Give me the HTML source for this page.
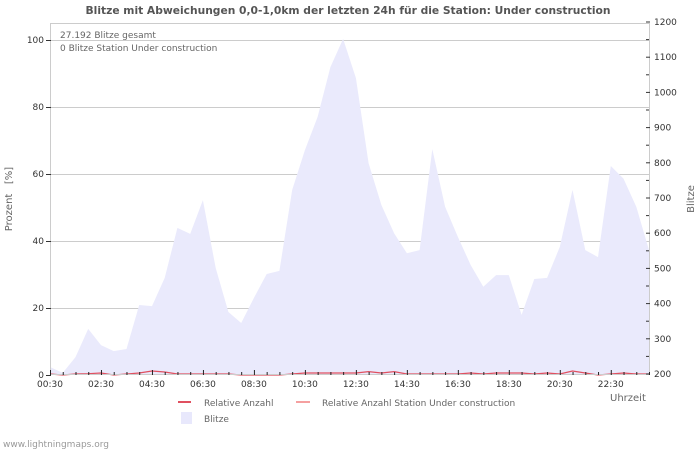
<!DOCTYPE html>
<html><head><meta charset="utf-8"><style>
html,body{margin:0;padding:0;background:#fff;}
svg{display:block;font-family:"DejaVu Sans","Liberation Sans",sans-serif;}
</style></head><body>
<svg id="chart" width="700" height="450" viewBox="0 0 700 450" xmlns="http://www.w3.org/2000/svg">
<text x="348" y="14" text-anchor="middle" font-size="10.7" font-weight="bold" fill="#555">Blitze mit Abweichungen 0,0-1,0km der letzten 24h für die Station: Under construction</text>
<g id="grid"></g>
<g id="area"></g>
<g id="lines"></g>
<rect x="50.5" y="23.5" width="599" height="351" fill="none" stroke="#ccc"/>
<g id="axes"></g>
<text x="60" y="38" font-size="9" fill="#666">27.192 Blitze gesamt</text>
<text x="60" y="51" font-size="9" fill="#666">0 Blitze Station Under construction</text>
<text transform="translate(12,199) rotate(-90)" text-anchor="middle" font-size="10" fill="#666" xml:space="preserve">Prozent   [%]</text>
<text transform="translate(694,199) rotate(-90)" text-anchor="middle" font-size="10" fill="#666">Blitze</text>
<text x="610" y="401" font-size="10" fill="#666">Uhrzeit</text>
<g>
<line x1="178" y1="402" x2="191" y2="402" stroke="#e05060" stroke-width="2"/>
<text x="204" y="406" font-size="9" fill="#666">Relative Anzahl</text>
<line x1="296" y1="402" x2="310" y2="402" stroke="#f5a0a0" stroke-width="2"/>
<text x="322" y="406" font-size="9" fill="#666">Relative Anzahl Station Under construction</text>
<rect x="181" y="412" width="11" height="12" fill="#e8e8fc"/>
<text x="204" y="422" font-size="9" fill="#666">Blitze</text>
</g>
<text x="3" y="447" font-size="9" fill="#999">www.lightningmaps.org</text>
</svg>
<script>
const blitze = [220,203,248,328,282,265,271,396,393,473,615,598,694,501,376,345,416,484,493,723,836,930,1072,1152,
1041,799,680,600,543,552,839,675,590,510,448,481,481,368,470,473,561,723,552,532,791,755,675,552];
const relAnzahl = [0.3,0,0.3,0.4,0.6,0,0.3,0.6,1.2,0.9,0.3,0.3,0.3,0.3,0.3,0,0,0,0,0.3,0.6,0.6,0.6,0.6,
0.6,1.0,0.6,1.0,0.3,0.3,0.3,0.3,0.3,0.6,0.3,0.6,0.6,0.6,0.3,0.6,0.3,1.2,0.6,0,0.3,0.6,0.3,0.3];
const xLabels = ["00:30","02:30","04:30","06:30","08:30","10:30","12:30","14:30","16:30","18:30","20:30","22:30"];
const leftTicks = [0,20,40,60,80,100];
const rightTicks = [200,300,400,500,600,700,800,900,1000,1100,1200];
const NS="http://www.w3.org/2000/svg";
const X0=50,STEP=12.745;
const xs=i=>X0+i*STEP;
const yL=v=>375-v*3.35;
const yR=v=>374-(v-200)*0.352;
function mk(tag,attrs,parent){const e=document.createElementNS(NS,tag);for(const k in attrs)e.setAttribute(k,attrs[k]);parent.appendChild(e);return e;}
const grid=document.getElementById('grid'),axes=document.getElementById('axes'),area=document.getElementById('area'),lines=document.getElementById('lines');
leftTicks.forEach(v=>{
  if(v>0){const g=mk('line',{x1:50,x2:650,y1:yL(v)+0.5,y2:yL(v)+0.5,stroke:'#ccc'},grid);
  
  }
  const t=mk('text',{x:44,y:yL(v)+3,'text-anchor':'end','font-size':'9',fill:'#333'},axes);t.textContent=v;
  
  
  mk('line',{x1:46,x2:51,y1:yL(v)+0.5,y2:yL(v)+0.5,stroke:'#333'},axes);
});
rightTicks.forEach(v=>{
  const t=mk('text',{x:654,y:yR(v)+3,'font-size':'9',fill:'#333'},axes);t.textContent=v;
  
  
  mk('line',{x1:646,x2:650,y1:yR(v),y2:yR(v),stroke:'#333'},axes);
  if(v<1200) mk('line',{x1:646,x2:649,y1:yR(v+50),y2:yR(v+50),stroke:'#333'},axes);
});
let d='M'+xs(0)+',375';
blitze.forEach((v,i)=>{d+=' L'+xs(i).toFixed(1)+','+yR(v).toFixed(1);});
d+=' L'+xs(blitze.length-1)+',375 Z';
const ap=mk('path',{d:d,fill:'#eaeafc'},area);


const pts=relAnzahl.map((v,i)=>xs(i).toFixed(1)+','+yL(v).toFixed(1)).join(' ');
const pl=mk('polyline',{points:pts,fill:'none',stroke:'#e05060','stroke-width':1.2},lines);


for(let i=0;i<48;i++){
  const major=i%4===0;
  mk('line',{x1:xs(i)+0.5,x2:xs(i)+0.5,y1:major?370:372,y2:375,stroke:'#222'},axes);
}
xLabels.forEach((lab,k)=>{
  const t=mk('text',{x:xs(k*4),y:387,'text-anchor':'middle','font-size':'9',fill:'#333'},axes);t.textContent=lab;
  
  
});
</script>
</body></html>
